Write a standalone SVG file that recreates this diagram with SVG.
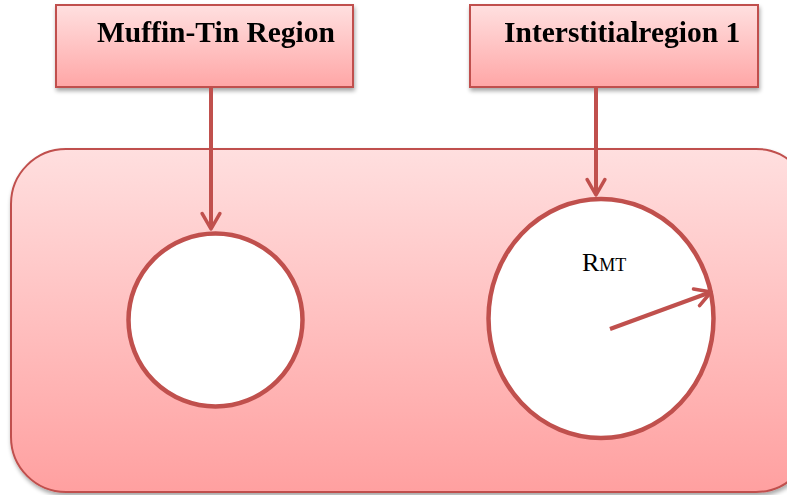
<svg xmlns="http://www.w3.org/2000/svg" width="787" height="495" viewBox="0 0 787 495">
<defs>
<linearGradient id="g" x1="0" y1="0" x2="0" y2="1">
<stop offset="0" stop-color="#FFDFDF"/>
<stop offset="1" stop-color="#FFA0A0"/>
</linearGradient>
<linearGradient id="gb" x1="0" y1="0" x2="0" y2="1">
<stop offset="0" stop-color="#FFE0E0"/>
<stop offset="1" stop-color="#FFA6A6"/>
</linearGradient>
<filter id="sh" x="-10%" y="-10%" width="120%" height="130%">
<feGaussianBlur in="SourceAlpha" stdDeviation="2"/>
<feOffset dx="1" dy="3" result="o"/>
<feComponentTransfer><feFuncA type="linear" slope="0.35"/></feComponentTransfer>
<feMerge><feMergeNode/><feMergeNode in="SourceGraphic"/></feMerge>
</filter>
<marker id="ah" viewBox="0 0 10 10" refX="8" refY="5" markerWidth="5.5" markerHeight="5.5" orient="auto" markerUnits="strokeWidth">
<path d="M1,1 L8,5 L1,9" fill="none" stroke="#C0504D" stroke-width="1.6" stroke-linecap="round" stroke-linejoin="round"/>
</marker>
</defs>
<style>
.box{fill:url(#gb);stroke:#C0504D;stroke-width:2}
.lbl{font-family:"Liberation Serif",serif;font-weight:bold;font-size:29.5px;fill:#000}
.con{stroke:#C0504D;stroke-width:4;fill:none}
.circ{fill:#fff;stroke:#C0504D;stroke-width:4.5}
</style>
<g id="region" filter="url(#sh)">
<rect x="11" y="149" width="800" height="343" rx="55" ry="55" fill="url(#g)" stroke="#C0504D" stroke-width="2"/>
</g>
<g id="muffin-tin-box" filter="url(#sh)">
<rect class="box" x="56" y="5" width="297" height="82"/>
<text class="lbl" x="97" y="42">Muffin-Tin Region</text>
</g>
<g id="interstitial-box" filter="url(#sh)">
<rect class="box" x="470" y="5" width="288" height="82"/>
<text class="lbl" x="504" y="42">Interstitialregion 1</text>
</g>
<g id="circle-left">
<ellipse class="circ" cx="215.5" cy="320" rx="87" ry="86.5"/>
</g>
<g id="circle-right">
<ellipse class="circ" cx="601" cy="318.5" rx="112.5" ry="119.5"/>
<text x="582" y="271" font-family="Liberation Serif,serif" font-size="26" fill="#000">R<tspan font-size="18">MT</tspan></text>
</g>
<g id="connectors">
<line class="con" x1="211" y1="88" x2="211" y2="229" marker-end="url(#ah)"/>
<line class="con" x1="596" y1="88" x2="596" y2="195" marker-end="url(#ah)"/>
<line class="con" x1="610" y1="329" x2="711" y2="292" marker-end="url(#ah)"/>
</g>
</svg>
